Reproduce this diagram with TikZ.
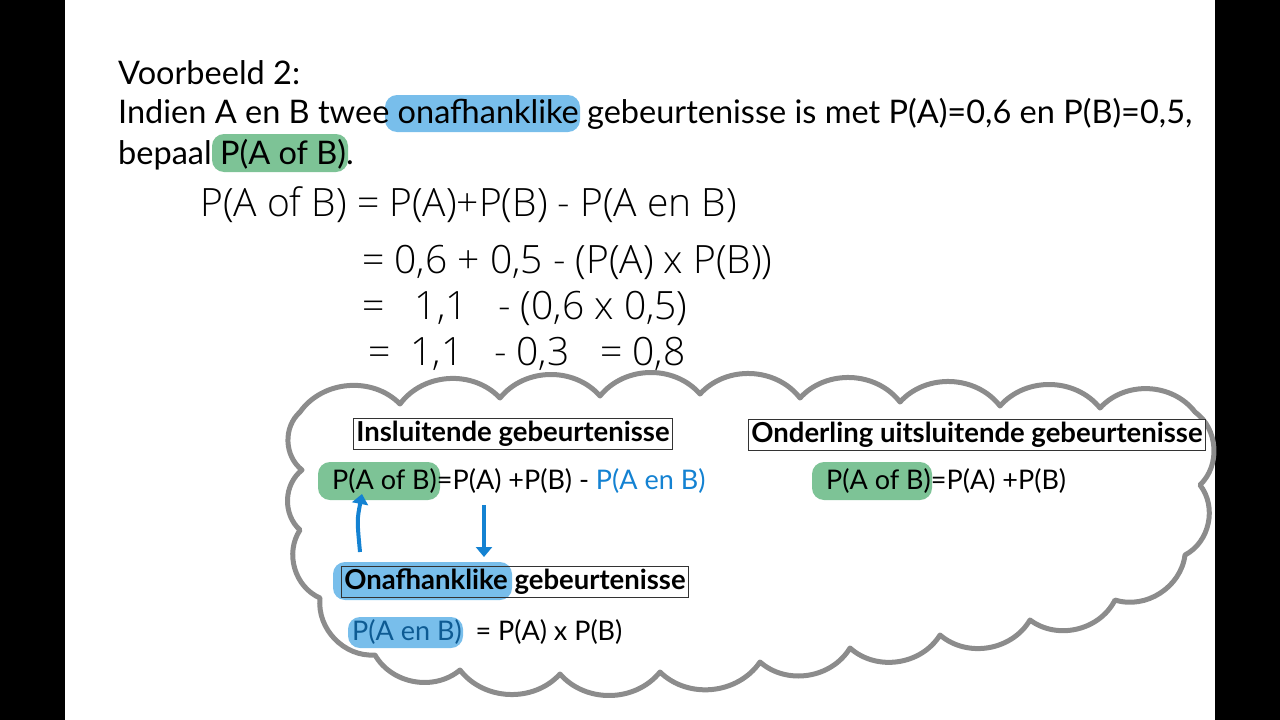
\documentclass[tikz,border=0pt]{standalone}
\usepackage{fontspec}
\setmainfont{Lato}
\newfontfamily\hand{Open Sans Light}
\usetikzlibrary{arrows.meta}
\definecolor{hblue}{RGB}{120,190,235}
\definecolor{hgreen}{RGB}{125,195,150}
\definecolor{ablue}{RGB}{20,130,210}
\definecolor{cgray}{RGB}{140,140,140}
\tikzset{
  txt/.style={anchor=west,inner sep=0pt,font=\fontsize{32.5}{38}\selectfont},
  sm/.style={anchor=west,inner sep=0pt,font=\fontsize{27}{32}\selectfont},
  hw/.style={anchor=west,inner sep=0pt,font=\hand\fontsize{39}{44}\selectfont},
  boxed/.style={draw=black!80,line width=0.8pt,inner sep=3pt,font=\bfseries\fontsize{27.5}{32}\selectfont},
  hlb/.style={fill=hblue,rounded corners=12pt},
  hlg/.style={fill=hgreen,rounded corners=12pt},
  barrow/.style={ablue,line width=4pt,-{Triangle[length=10pt,width=16pt]}},
  cloudline/.style={draw=cgray,line width=5pt,line join=round}
}
\begin{document}
\begin{tikzpicture}[x=1pt,y=-1pt]
\useasboundingbox (0,0) rectangle (1280,720);
\fill[black] (0,0) rectangle (65,720);
\fill[black] (1215,0) rectangle (1280,720);
% highlights
\fill[hlb] (385,95) rectangle (580,132);
\fill[hlg] (212,134) rectangle (348,172);
% text
\node[txt] (t1) at (118,73) {Voorbeeld 2:};
\node[txt] (t2) at (118,114) {Indien A en B twee onafhanklike gebeurtenisse is met P(A)=0,6 en P(B)=0,5,};
\node[txt] (t3) at (118,155) {bepaal P(A of B).};
% handwritten
\node[hw] (h1) at (200,205) {P(A of B) = P(A)+P(B) - P(A en B)};
\node[hw] (h2) at (362,262) {= 0,6 + 0,5 - (P(A) x P(B))};
\node[hw] (h3) at (362,308) {= \ \ 1,1 \ \ - (0,6 x 0,5)};
\node[hw] (h4) at (368,354) {= \ 1,1 \ \ - 0,3 \ \ = 0,8};
% cloud
\draw[cloudline] (300,412) to[bend left=50] (400,404) to[bend left=50] (500,398)
 to[bend left=50] (600,396) to[bend left=50] (700,394) to[bend left=50] (800,398)
 to[bend left=50] (900,402) to[bend left=50] (1000,406) to[bend left=50] (1100,408)
 to[bend left=50] (1195,412) to[bend left=50] (1200,485) to[bend left=50] (1185,555)
 to[bend left=50] (1115,600) to[bend left=50] (1030,620) to[bend left=50] (940,635)
 to[bend left=50] (850,648) to[bend left=50] (760,662) to[bend left=50] (660,672)
 to[bend left=50] (560,674) to[bend left=50] (460,670) to[bend left=50] (375,655)
 to[bend left=50] (320,598) to[bend left=50] (300,530) to[bend left=50] (302,470)
 to[bend left=50] cycle;
% boxes
\node[boxed,fill=white] (b1) at (513,434) {Insluitende gebeurtenisse};
\node[boxed,fill=white] (b2) at (977,435) {Onderling uitsluitende gebeurtenisse};
\fill[hlb] (333,562) rectangle (512,600);
\node[boxed] (b3) at (515,582) {Onafhanklike gebeurtenisse};
% formulas
\fill[hlg] (318,462) rectangle (440,500);
\fill[hlg] (812,462) rectangle (932,500);
\node[sm] (f1) at (332,481) {P(A of B)=P(A) +P(B) - \textcolor{ablue}{P(A en B)}};
\node[sm] (f2) at (826,481) {P(A of B)=P(A) +P(B)};
\fill[hlb] (348,617) rectangle (463,648);
\node[sm] (f3) at (352,632) {\textcolor{ablue!70!black}{P(A en B)}\ \ = P(A) x P(B)};
\coordinate (u1) at (360,552);
\coordinate (u2) at (362,494);
\coordinate (d1) at (484,505);
\coordinate (d2) at (484,557);
\draw[barrow] (u1) .. controls (357,520) .. (u2);
\draw[barrow] (d1) -- (d2);
\end{tikzpicture}
\end{document}
